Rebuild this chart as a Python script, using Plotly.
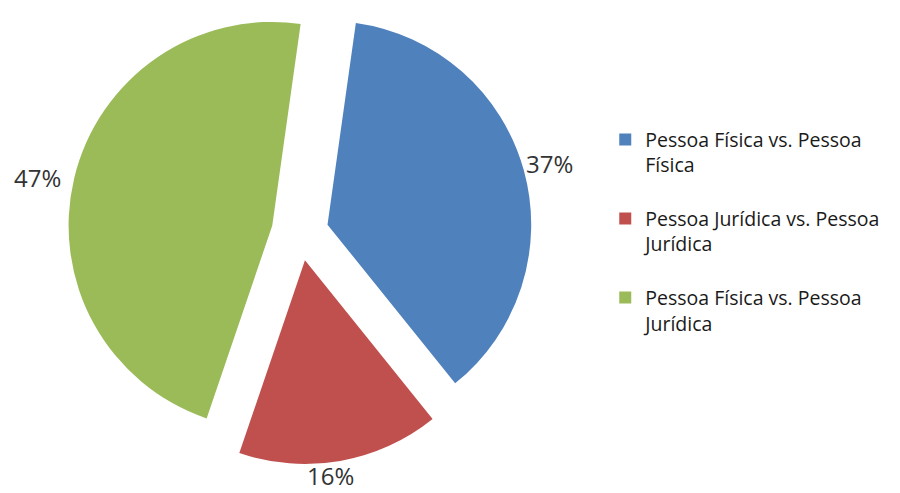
import plotly.graph_objects as go

# Share of cases by type of parties involved
categories = [
    "Pessoa Física vs. Pessoa<br>Física<br> ",
    "Pessoa Jurídica vs. Pessoa<br>Jurídica<br> ",
    "Pessoa Física vs. Pessoa<br>Jurídica",
]
shares = [37, 16, 47]
colors = ["#4F81BD", "#C0504D", "#9BBB59"]

# where each percentage label sits (paper coordinates)
label_x = [0.611, 0.3667, 0.042]
label_y = [0.669, 0.0, 0.640]
label_anchor = ["middle", "bottom", "middle"]

fig = go.Figure(
    go.Pie(
        labels=categories,
        values=shares,
        sort=False,
        direction="clockwise",
        rotation=8,
        pull=[0.14, 0.14, 0.14],
        marker=dict(colors=colors, line=dict(width=0)),
        textinfo="none",
        domain=dict(x=[0.0556, 0.6111], y=[0.058, 1.0]),
        hoverinfo="label+percent",
    )
)

total = sum(shares)
for v, lx, ly, ya in zip(shares, label_x, label_y, label_anchor):
    fig.add_annotation(
        x=lx,
        y=ly,
        xref="paper",
        yref="paper",
        text=f"{round(100 * v / total)}%",
        showarrow=False,
        xanchor="center",
        yanchor=ya,
        borderpad=0,
        font=dict(family="Open Sans", size=24, color="#333333"),
    )

fig.update_layout(
    width=900,
    height=493,
    margin=dict(l=0, r=0, t=0, b=0, autoexpand=False),
    paper_bgcolor="white",
    plot_bgcolor="white",
    showlegend=True,
    legend=dict(
        x=0.6725,
        y=0.756,
        xanchor="left",
        yanchor="top",
        valign="top",
        font=dict(family="Open Sans", size=19.5, color="#1a1a1a"),
        itemsizing="constant",
        traceorder="normal",
    ),
)

fig.write_html("out.html")
